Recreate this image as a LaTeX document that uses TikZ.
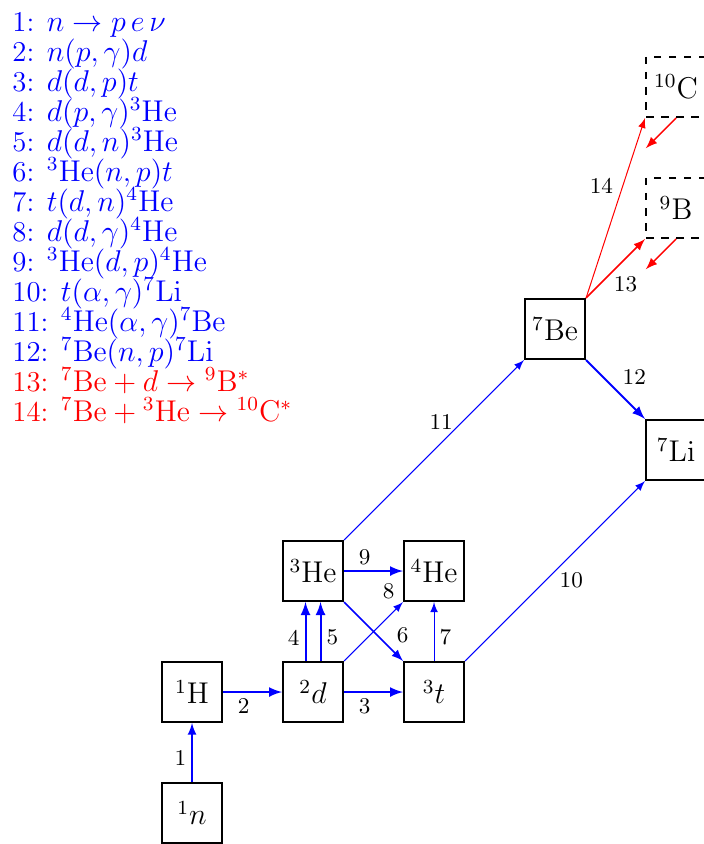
\documentclass[tikz,border=0pt]{standalone}
\usepackage{amsmath,amssymb}
\usepackage{xcolor}
\usepackage{tikz}
\usetikzlibrary{positioning}
\newcommand{\listfont}{\fontsize{11.5}{12}\selectfont\lineskiplimit=-6pt\relax}
\tikzset{
  nuc/.style={draw,thick,minimum size=24pt,inner sep=0pt,font=\large},
  unst/.style={nuc,dashed},
  rate/.style={blue,->,>=latex},
  decay/.style={red,->,>=latex},
  lab/.style={font=\small,text=black,inner sep=2pt}
}

\begin{document}
\begin{tikzpicture}[x=1.7cm,y=1.7cm]
\useasboundingbox (-1.587,-0.256) rectangle (4.231,6.719);
% reaction list
\node[anchor=north west,align=left,text=blue,inner sep=0pt,font=\listfont] (list) at (-1.488,6.62)
  {1: $n\to p\,e\,\nu$\\
   2: $n(p,\gamma)d$\\
   3: $d(d,p)t$\\
   4: $d(p,\gamma)^3\mathrm{He}$\\
   5: $d(d,n)^3\mathrm{He}$\\
   6: $^3\mathrm{He}(n,p)t$\\
   7: $t(d,n)^4\mathrm{He}$\\
   8: $d(d,\gamma)^4\mathrm{He}$\\
   9: $^3\mathrm{He}(d,p)^4\mathrm{He}$\\
   10: $t(\alpha,\gamma)^7\mathrm{Li}$\\
   11: $^4\mathrm{He}(\alpha,\gamma)^7\mathrm{Be}$\\
   12: $^7\mathrm{Be}(n,p)^7\mathrm{Li}$\\
   \textcolor{red}{13: $^7\mathrm{Be}+d\to{}^9\mathrm{B}^*$}\\
   \textcolor{red}{14: $^7\mathrm{Be}+{}^3\mathrm{He}\to{}^{10}\mathrm{C}^*$}};
% nuclides
\node[nuc] (n) at (0,0) {$^{1}n$};
\node[nuc] (H) at (0,1) {$^{1}\mathrm{H}$};
\node[nuc] (d) at (1,1) {$^{2}d$};
\node[nuc] (t) at (2,1) {$^{3}t$};
\node[nuc] (He3) at (1,2) {$^{3}\mathrm{He}$};
\node[nuc] (He4) at (2,2) {$^{4}\mathrm{He}$};
\node[nuc] (Li) at (4,3) {$^{7}\mathrm{Li}$};
\node[nuc] (Be) at (3,4) {$^{7}\mathrm{Be}$};
\node[unst] (B) at (4,5) {$^{9}\mathrm{B}$};
\node[unst] (C) at (4,6) {$^{10}\mathrm{C}$};
\coordinate (Bx) at ([shift={(-0.25,-0.25)}]B.south);
\coordinate (Cx) at ([shift={(-0.25,-0.25)}]C.south);
% reactions
\draw[rate,semithick] (n) -- node[lab,left,pos=0.4]{1} (H);
\draw[rate,thick] (H) -- node[lab,below,pos=0.35]{2} (d);
\draw[rate,thick] (d) -- node[lab,below,pos=0.35]{3} (t);
\draw[rate,thick] ([xshift=-3pt]d.north) -- node[lab,left,pos=0.4]{4} ([xshift=-3pt]He3.south);
\draw[rate,thick] ([xshift=3pt]d.north) -- node[lab,right,pos=0.4]{5} ([xshift=3pt]He3.south);
\draw[rate,semithick] (He3.south east) -- node[lab,pos=0.8,above right]{6} (t.north west);
\draw[rate] (t) -- node[lab,right,pos=0.4]{7} (He4);
\draw[rate] (d.north east) -- node[lab,pos=0.95,above left]{8} (He4.south west);
\draw[rate,thick] (He3) -- node[lab,above,pos=0.35]{9} (He4);
\draw[rate] (t.north east) -- node[lab,pos=0.51,below right=-1.5pt]{10} (Li.south west);
\draw[rate] (He3.north east) -- node[lab,pos=0.61,above left=-2.5pt]{11} (Be.south west);
\draw[rate,thick] (Be.south east) -- node[lab,pos=0.52,above right]{12} (Li.north west);
\draw[decay,semithick] (Be.north east) -- node[lab,pos=0.42,below right=-1.5pt]{13} (B.south west);
\draw[decay] (Be.north east) -- node[lab,pos=0.55,above left]{14} (C.south west);
\draw[decay,semithick] (B.south) -- (Bx);
\draw[decay,semithick] (C.south) -- (Cx);
\end{tikzpicture}
\end{document}
